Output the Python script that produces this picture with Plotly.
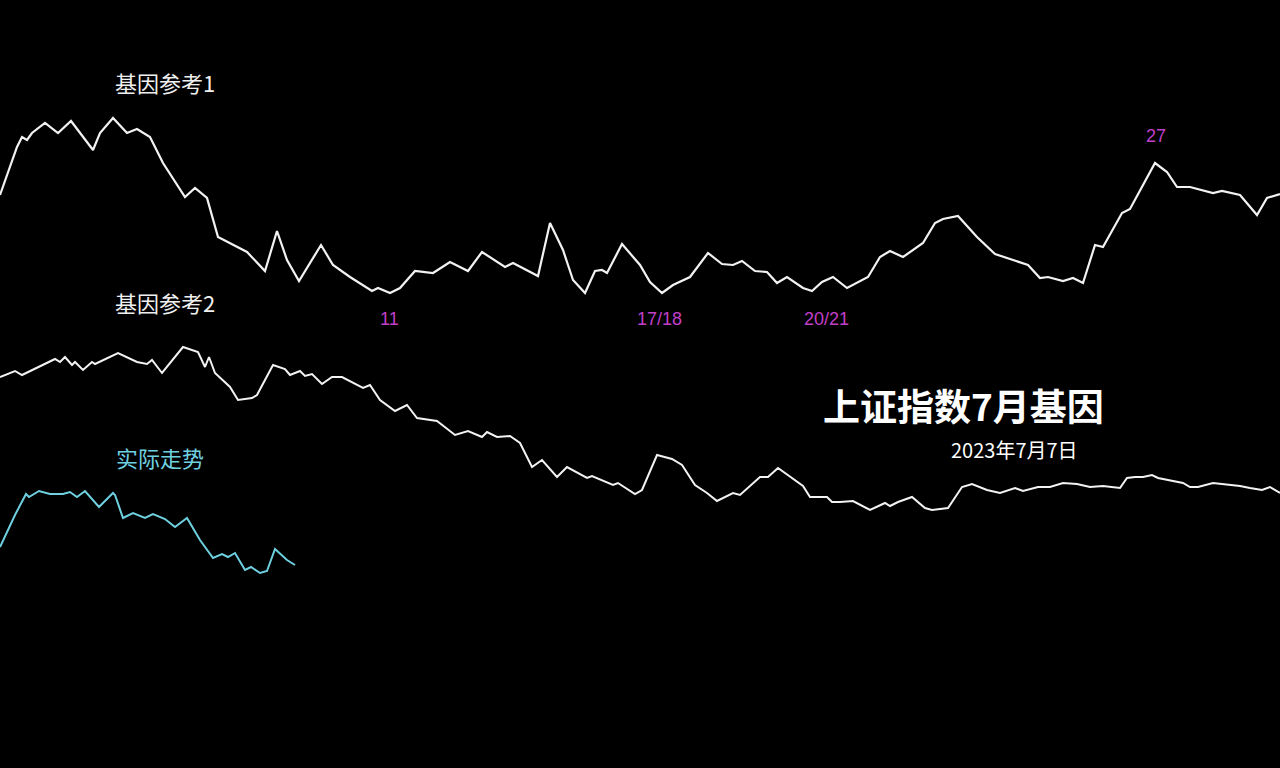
import plotly.graph_objects as go

# 基因参考1 (screen-space positions; y grows downward)
ref1_x = [0, 17, 22, 27, 32, 45, 58, 71, 93, 100, 113, 127, 137, 150, 163, 185, 195, 207, 218, 247, 265, 277, 287, 299, 321,
          333, 350, 372, 378, 390, 400, 415, 433, 450, 468, 482, 505, 513, 538, 550, 563, 573, 585, 595, 602, 607, 622, 640,
          650, 662, 673, 690, 708, 722, 733, 742, 755, 767, 777, 787, 803, 812, 822, 833, 847, 868, 880, 890, 903, 923, 935,
          943, 958, 977, 995, 1028, 1040, 1048, 1063, 1073, 1083, 1095, 1103, 1122, 1130, 1155, 1167, 1177, 1190, 1213, 1222,
          1240, 1257, 1267, 1280]
ref1_y = [195, 147, 137, 140, 133, 123, 133, 121, 150, 133, 118, 133, 129, 137, 163, 197, 188, 198, 237, 252, 271, 231, 260, 281, 245,
          265, 277, 291, 288, 293, 288, 271, 273, 262, 271, 252, 267, 263, 276, 223, 250, 280, 293, 271, 270, 273, 244, 265,
          282, 293, 285, 277, 253, 264, 265, 261, 271, 272, 283, 277, 288, 291, 282, 277, 288, 277, 257, 251, 257, 243, 223,
          219, 216, 237, 254, 265, 278, 277, 281, 278, 283, 245, 247, 213, 209, 163, 172, 187, 187, 193, 191,
          195, 215, 198, 194]

# 基因参考2
ref2_x = [0, 15, 22, 55, 60, 65, 72, 75, 83, 92, 95, 118, 137, 147, 152, 162, 183, 198, 205, 209, 215, 230, 238, 252, 257, 273,
          285, 290, 300, 305, 312, 322, 332, 342, 363, 370, 380, 395, 407, 417, 437, 455, 468, 482, 487, 497, 510, 520, 532,
          542, 557, 567, 587, 592, 613, 618, 635, 642, 657, 672, 682, 695, 707, 717, 733, 740, 760, 768, 778, 792, 803, 810,
          827, 832, 840, 853, 870, 885, 890, 898, 912, 925, 932, 948, 955, 962, 972, 987, 1000, 1015, 1023, 1038, 1050, 1063,
          1077, 1090, 1103, 1120, 1127, 1135, 1143, 1152, 1158, 1172, 1183, 1190, 1198, 1213, 1230, 1240, 1250, 1262, 1270, 1280]
ref2_y = [377, 371, 375, 359, 362, 357, 365, 362, 370, 362, 364, 353, 362, 364, 360, 373, 347, 352, 367, 357, 373, 387, 400, 398, 395, 365,
          369, 375, 371, 376, 374, 384, 377, 377, 388, 385, 400, 411, 405, 418, 421, 435, 431, 437, 432, 437, 436, 443, 467,
          460, 477, 467, 478, 476, 485, 483, 494, 490, 455, 459, 465, 485, 493, 501, 493, 495, 477, 477, 468, 478, 486, 497,
          497, 502, 502, 501, 510, 503, 506, 502, 497, 508, 510, 508, 498, 487, 484, 490, 493, 488, 491, 487, 487, 483,
          484, 487, 486, 488, 478, 477, 477, 475, 478, 481, 483, 487, 487, 483, 485, 486, 488, 490, 487, 493]

# 实际走势
act_x = [0, 15, 26, 29, 39, 50, 63, 70, 77, 85, 99, 113, 115, 123, 133, 145, 153, 165, 175, 187, 200, 213, 222, 228, 235, 245,
         251, 260, 267, 275, 287, 295]
act_y = [547, 515, 494, 497, 491, 494, 494, 492, 497, 491, 507, 493, 495, 518, 513, 518, 514, 519, 527, 518, 540, 558, 554, 557, 553, 570,
         567, 573, 571, 549, 560, 565]

series_labels = ["基因参考1", "基因参考2", "实际走势"]
date_marks = ["11", "17/18", "20/21", "27"]
title_text = "上证指数7月基因"
date_text = "2023年7月7日"

fig = go.Figure()
fig.add_trace(go.Scatter(x=ref1_x, y=ref1_y, mode="lines", line=dict(color="#f2f2f2", width=2.2), hoverinfo="skip"))
fig.add_trace(go.Scatter(x=ref2_x, y=ref2_y, mode="lines", line=dict(color="#f2f2f2", width=2), hoverinfo="skip"))
fig.add_trace(go.Scatter(x=act_x, y=act_y, mode="lines", line=dict(color="#6fd0e0", width=2), hoverinfo="skip"))

font_cjk = "Noto Sans CJK SC, Noto Sans, sans-serif"
mag = dict(size=18, color="#c23fc8", family="Liberation Sans, Arial, sans-serif")
annots = [
    dict(x=165, y=82, text=series_labels[0], font=dict(size=22, color="#f0f0f0", family=font_cjk)),
    dict(x=165, y=302, text=series_labels[1], font=dict(size=22, color="#f0f0f0", family=font_cjk)),
    dict(x=160, y=457, text=series_labels[2], font=dict(size=22, color="#6fd0e0", family=font_cjk)),
    dict(x=389, y=319, text=date_marks[0], font=mag),
    dict(x=659, y=319, text=date_marks[1], font=mag),
    dict(x=826, y=319, text=date_marks[2], font=mag),
    dict(x=1156, y=136, text=date_marks[3], font=mag),
    dict(x=963, y=405, text="<b>" + title_text + "</b>", font=dict(size=37, color="#ffffff", family=font_cjk)),
    dict(x=1014, y=449, text=date_text, font=dict(size=20, color="#ffffff", family=font_cjk)),
]
for a in annots:
    a.update(xref="x", yref="y", showarrow=False, xanchor="center", yanchor="middle")
fig.update_layout(annotations=annots)

fig.update_layout(
    width=1280, height=768,
    margin=dict(l=0, r=0, t=0, b=0),
    paper_bgcolor="#000000", plot_bgcolor="#000000",
    showlegend=False,
    xaxis=dict(range=[0, 1280], visible=False, fixedrange=True),
    yaxis=dict(range=[768, 0], visible=False, fixedrange=True),
)
fig.write_html(
    "out.html",
    config={"displayModeBar": False},
    post_script="document.body.style.margin='0';document.body.style.padding='0';"
                "document.body.style.background='#000';document.body.style.overflow='hidden';",
)
